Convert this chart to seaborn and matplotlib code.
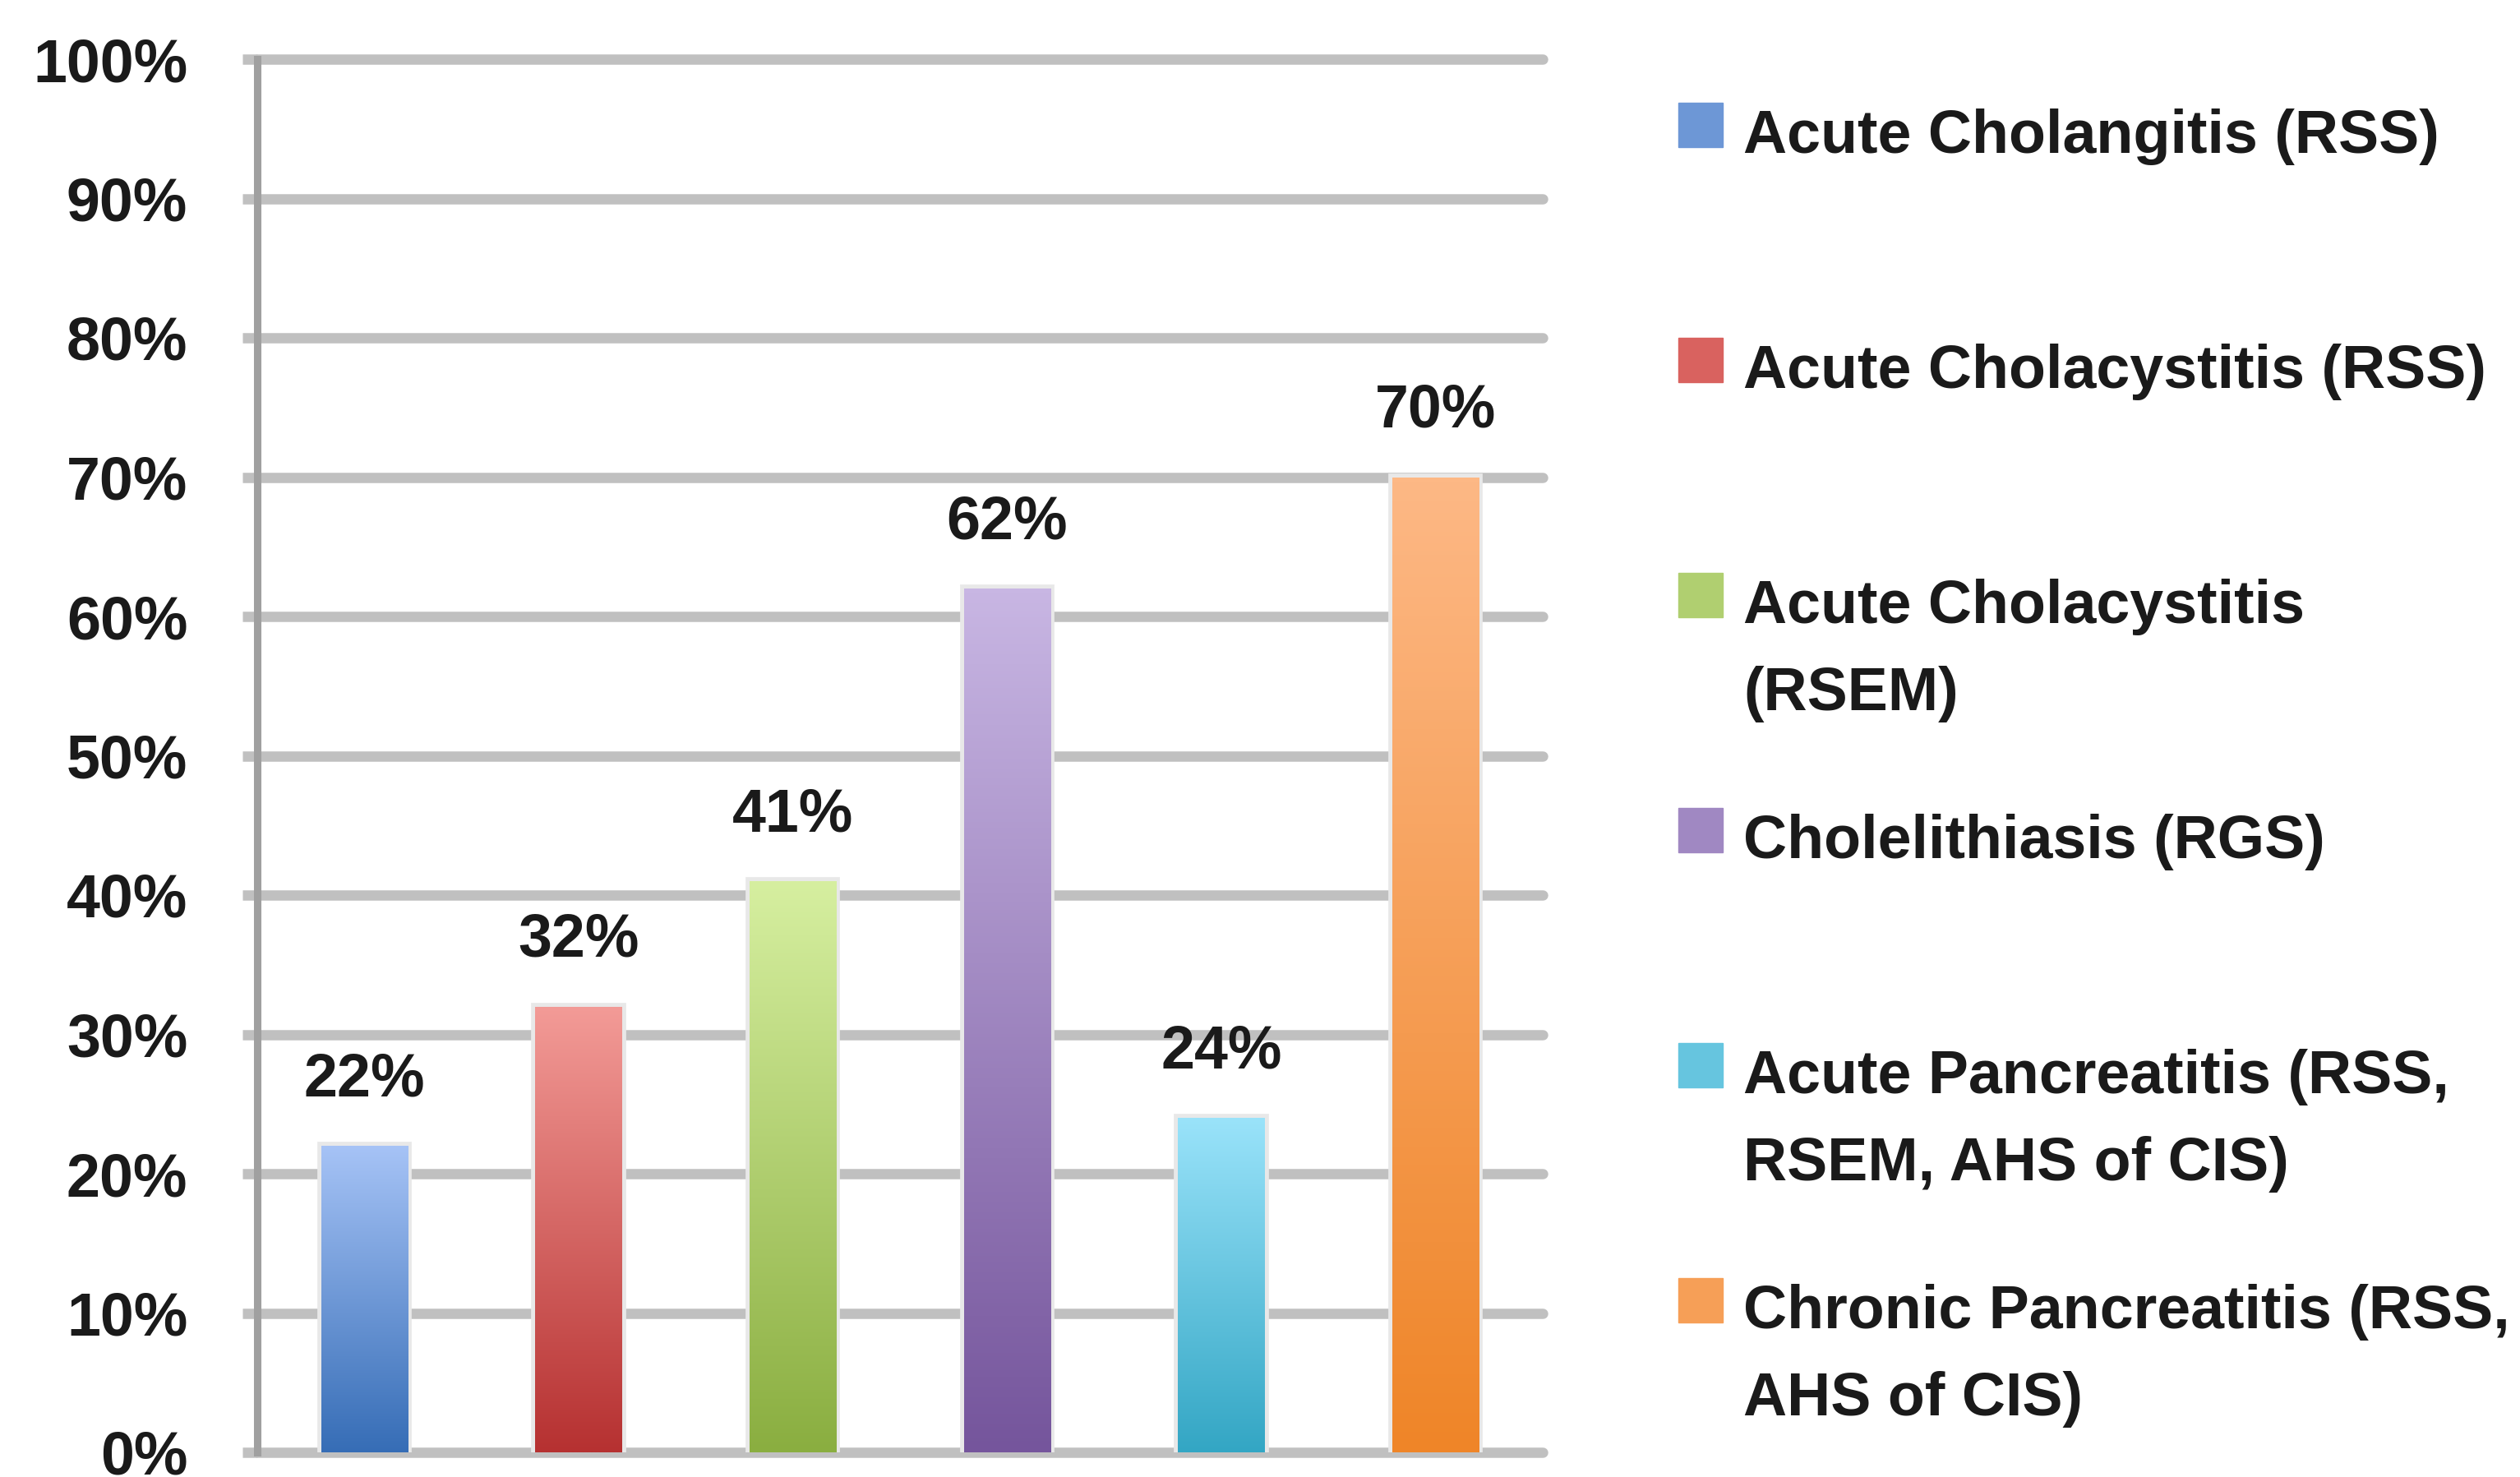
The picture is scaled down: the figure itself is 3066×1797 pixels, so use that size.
import numpy as np
import pandas as pd
import matplotlib.pyplot as plt
import matplotlib.colors as mcolors
import matplotlib.patches as mpatches
import matplotlib.transforms as mtransforms
import seaborn as sns


conditions = ["Acute Cholangitis (RSS)", "Acute Cholacystitis (RSS)",
              "Acute Cholacystitis\n(RSEM)", "Cholelithiasis (RGS)",
              "Acute Pancreatitis (RSS,\nRSEM, AHS of CIS)",
              "Chronic Pancreatitis (RSS,\nAHS of CIS)"]
values = [0.22, 0.32, 0.41, 0.62, 0.24, 0.70]

top_colors = ["#a6c3f6", "#f39b97", "#d6efa0", "#c8b6e3", "#9ae3fa", "#fdb885"]
bottom_colors = ["#366db6", "#b63131", "#8aae40", "#75559c", "#33a6c4", "#ef8528"]
mid_colors = ["#6d97d6", "#d9625f", "#b0cf70", "#a088c2", "#66c5df", "#f69f57"]

yticks = [0.0, 0.1, 0.2, 0.3, 0.4, 0.5, 0.6, 0.7, 0.8, 0.9, 1.0]
ytick_labels = ["0%", "10%", "20%", "30%", "40%", "50%", "60%", "70%", "80%", "90%", "100%"]

W, H = 3066, 1797
FS = 53
LINE_STEP = 106  # px between lines of a wrapped legend label
grid_color = "#c0c0c0"
text_color = "#1a1a1a"

sns.set_style("white")
plt.rcParams['font.family'] = ['Liberation Sans', 'DejaVu Sans']

fig = plt.figure(figsize=(W / 100, H / 100), dpi=100)
ax = fig.add_axes([313 / W, 1 - 1767 / H, (1877 - 313) / W, (1767 - 72) / H])

df = pd.DataFrame({"condition": conditions, "value": values})
sns.barplot(data=df, x="condition", y="value", hue="condition",
            palette=mid_colors, width=0.405, legend=False, ax=ax,
            edgecolor="#e8e8e8", linewidth=7, saturation=1)

# gradient fill clipped to each bar
grad = np.linspace(0, 1, 256).reshape(-1, 1)
for i, patch in enumerate(ax.patches):
    x0, y0 = patch.get_x(), patch.get_y()
    w, h = patch.get_width(), patch.get_height()
    cmap = mcolors.LinearSegmentedColormap.from_list("g%d" % i, [bottom_colors[i], top_colors[i]])
    im = ax.imshow(grad, cmap=cmap, extent=[x0, x0 + w, y0, y0 + h], origin="lower",
                   aspect="auto", zorder=patch.get_zorder() + 0.1, interpolation="bilinear")
    im.set_clip_path(patch)

for i, cont in enumerate(ax.containers):
    ax.bar_label(cont, labels=["%d%%" % round(values[i] * 100)], padding=33,
                 fontsize=FS, fontweight="bold", color=text_color)

ax.set_xlim(-0.5, len(conditions) - 0.5)
ax.set_ylim(0, 1)
ax.set_yticks(yticks)
ax.set_yticklabels(ytick_labels, fontsize=FS, fontweight="bold", color=text_color)
shift = mtransforms.ScaledTranslation(0, -6 / 72, fig.dpi_scale_trans)
for lbl in ax.get_yticklabels():
    lbl.set_transform(lbl.get_transform() + shift)
ax.set_xticks([])
ax.set_xlabel("")
ax.set_ylabel("")

ax.set_axisbelow(True)
ax.yaxis.grid(True, color=grid_color, linewidth=9)
for gl in ax.get_ygridlines():
    gl.set_clip_on(False)
ax.tick_params(axis="y", direction="out", length=13, width=9, color=grid_color, pad=48, left=True)

for s in ["top", "right", "bottom"]:
    ax.spines[s].set_visible(False)
ax.spines["left"].set_color("#a0a0a0")
ax.spines["left"].set_linewidth(6.5)

# legend entries stacked at a fixed step, like the original
for i, label in enumerate(conditions):
    base = 186 + 286 * i
    lines = label.split("\n")
    for j, line in enumerate(lines):
        fig.text(2121 / W, 1 - (base + j * LINE_STEP) / H, line, fontsize=FS,
                 fontweight="bold", color=text_color, va="baseline", ha="left")
    rect = mpatches.Rectangle((2042 / W, 1 - (base - 7) / H), 54 / W, 54 / H,
                              transform=fig.transFigure, color=mid_colors[i])
    fig.add_artist(rect)

fig.savefig("out.png", dpi=100)
